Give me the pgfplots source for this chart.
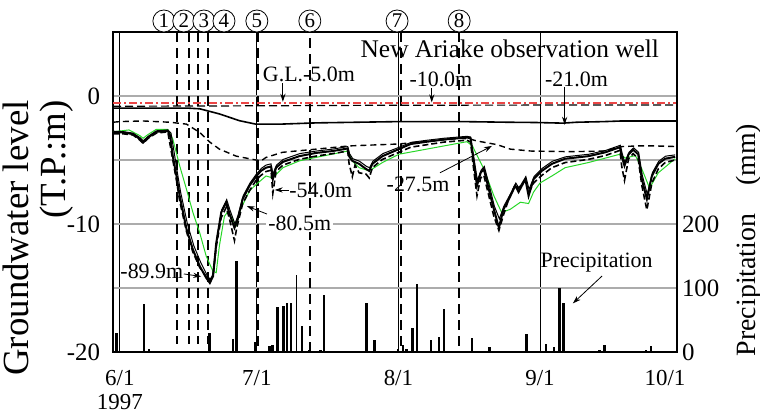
\documentclass[border=0pt]{standalone}
\usepackage{pgfplots}
\pgfplotsset{compat=1.18}
\usepackage{fontspec}
\setmainfont{Liberation Serif}
\usetikzlibrary{arrows.meta}
\definecolor{glred}{RGB}{235,70,70}
\definecolor{deepgreen}{RGB}{40,215,40}
\begin{document}
\begin{tikzpicture}
\path[use as bounding box] (-56.5bp,-30.5bp) rectangle (323.5bp,176bp);
\begin{axis}[
 scale only axis, width=282bp, height=160bp, at={(0,0)}, anchor=south west,
 xmin=-1.5, xmax=122, ymin=-20, ymax=5,
 xtick={0,30,61,92,122}, xticklabels={{6/1\\1997},7/1,8/1,9/1,{\hspace*{-12bp}10/1}},
 ytick={-20,-15,-10,-5,0}, yticklabels={-20,,-10,,0},
 major tick length=0pt,
 xmajorgrids, ymajorgrids,
 x grid style={black, line width=0.4bp},
 y grid style={gray!65, line width=0.6bp},
 axis line style={line width=0.8bp},
 tick label style={font=\fontsize{12.5}{13}\selectfont},
 xticklabel style={align=center, font=\fontsize{11.5}{12}\selectfont, yshift=-5.5bp},
 yticklabel style={xshift=-3bp},
 /pgf/number format/assume math mode=true,
 clip=false,
]
% event lines
\addplot[black, line width=1.1bp, dash pattern=on 5bp off 3bp] coordinates {(12.5,5) (12.5,-19.4)};
\addplot[black, line width=1.1bp, dash pattern=on 5bp off 3bp] coordinates {(15.1,5) (15.1,-19.4)};
\addplot[black, line width=1.1bp, dash pattern=on 5bp off 3bp] coordinates {(17.1,5) (17.1,-19.4)};
\addplot[black, line width=1.1bp, dash pattern=on 5bp off 3bp] coordinates {(19.3,5) (19.3,-19.4)};
\addplot[black, line width=1.1bp, dash pattern=on 5bp off 3bp] coordinates {(30.2,5) (30.2,-20)};
\addplot[black, line width=1.1bp, dash pattern=on 5bp off 3bp] coordinates {(41.6,4.5) (41.6,-20)};
\addplot[black, line width=1.1bp, dash pattern=on 5bp off 3bp] coordinates {(61.5,5) (61.5,-20)};
\addplot[black, line width=1.1bp, dash pattern=on 5bp off 3bp] coordinates {(74.3,5) (74.3,-20)};
% G.L.-5.0m
\addplot[glred, line width=0.6bp, dash pattern=on 4bp off 1.5bp on 1bp off 1.5bp] coordinates {(-1.5,-0.55) (122,-0.55)};
% -10.0m
\addplot[black, line width=0.6bp, dash pattern=on 4bp off 2bp] coordinates {(-1.5,-0.8) (20,-0.78) (60,-0.72) (122,-0.7)};
% -21.0m
\addplot[black, line width=0.8bp] coordinates {(-1.5,-0.95) (15,-0.95) (17.5,-1.0) (21.8,-1.4) (26.2,-1.93) (29.8,-2.2) (35,-2.2) (43,-2.1) (61,-2.0) (75,-2.0) (85,-2.05) (91,-2.07) (97,-2.12) (100,-2.05) (106,-2.0) (110,-1.95) (122,-1.95)};
% -27.5m
\addplot[black, line width=0.7bp, dash pattern=on 3bp off 2bp] coordinates {(-1.5,-2.05) (0,-2.0) (5,-1.95) (11,-2.05) (14.6,-2.2) (17.5,-2.85) (19.7,-3.6) (21.8,-4.15) (25.5,-4.7) (29.8,-5.0) (31,-5.05) (32,-4.8) (35.6,-4.4) (43,-4.15) (50.2,-3.9) (61,-3.75) (74.6,-3.3) (76.7,-3.36) (78,-3.5) (82.6,-3.8) (85.5,-4.15) (90,-4.3) (99,-4.35) (106,-4.3) (110,-3.95) (113.5,-3.9) (117,-3.9) (122,-3.95)};
% green
\addplot[deepgreen, line width=0.5bp] coordinates {(-1.5,-2.8) (2,-2.65) (4.4,-3.1) (5.1,-3.3) (6.2,-3.0) (8,-2.6) (10.5,-2.6) (11.6,-3.37) (13.1,-5.45) (14.6,-7.3) (16,-9.1) (17.5,-10.7) (18.9,-12.5) (20.4,-13.7) (21.1,-13.8) (21.8,-11.7) (22.9,-9.4) (23.7,-9.0) (25.1,-9.9) (25.5,-10.1) (26.5,-8.8) (28.4,-7.4) (30.2,-6.8) (32,-6.25) (33.5,-6.4) (35.7,-5.6) (39.3,-5.07) (42.9,-4.8) (49.9,-4.3) (50.9,-5.07) (52.4,-5.6) (54.6,-5.85) (57.5,-5.2) (61.1,-4.55) (76,-3.57) (77.2,-3.9) (79.7,-5.7) (81.9,-7.8) (83.6,-9.1) (85.5,-8.85) (87.7,-8.3) (89.5,-8.4) (90.6,-7.5) (92,-6.8) (94.6,-6.25) (97.5,-5.6) (102.6,-5.2) (109.5,-4.55) (110.7,-4.85) (112.9,-4.65) (114.3,-5.7) (116,-7.2) (117.9,-6.0) (121.6,-4.9)};
% dashed deep
\addplot[black, line width=0.8bp, dash pattern=on 3bp off 1.5bp] coordinates {(-1.5,-2.95) (0.7,-2.95) (2.9,-3.05) (4.4,-3.45) (5.1,-3.7) (6.2,-3.3) (8,-2.9) (10.5,-2.8) (11,-3.8) (11.6,-5.0) (12.4,-6.6) (13.1,-8.2) (14.6,-10.6) (16,-12.2) (17.5,-13.4) (18.9,-14.1) (19.7,-14.4) (20.4,-14.0) (21.1,-11.8) (22.2,-9.5) (23.3,-8.7) (24,-9.6) (25.1,-11.3) (25.6,-10.3) (26.9,-8.4) (28.4,-7.4) (29.8,-6.6) (30.9,-6.2) (32,-5.9) (33.1,-5.8) (33.5,-7.6) (34.2,-5.9) (35.7,-5.4) (39.3,-4.95) (42.9,-4.7) (46.6,-4.5) (49.9,-4.3) (50.2,-5.3) (50.9,-6.3) (51.5,-5.4) (52.4,-6.0) (53.9,-6.1) (54.6,-6.4) (55.3,-5.6) (57.5,-4.95) (61.1,-4.4) (63.7,-4.0) (67.3,-3.8) (71,-3.6) (76,-3.45) (76.8,-3.6) (77.5,-5.8) (78.2,-7.8) (79,-6.4) (79.7,-6.2) (80.8,-7.8) (81.9,-9.4) (83,-10.5) (84,-9.3) (85.2,-8.0) (86.6,-6.9) (87.3,-7.2) (88.8,-6.6) (89.5,-7.6) (90.6,-6.8) (92.4,-6.2) (94.6,-5.6) (97.5,-5.2) (102.6,-4.95) (106.3,-4.65) (109.5,-4.25) (109.9,-5.5) (110.5,-6.6) (111.4,-4.9) (112.4,-4.5) (113.5,-4.9) (114.3,-7.0) (115.4,-8.9) (116.5,-6.8) (117.9,-5.7) (119.4,-5.2) (121.6,-5.0)};
% thin solid
\addplot[black, line width=0.5bp] coordinates {(-1.5,-2.75) (0.7,-2.78) (2.9,-2.9) (4.4,-3.25) (5.1,-3.5) (6.2,-3.15) (8,-2.72) (10.5,-2.65) (11.2,-2.9) (11.8,-4.2) (12.6,-6.0) (13.3,-7.5) (14.8,-10.0) (16.2,-11.7) (17.7,-13.0) (19.1,-14.0) (19.9,-14.4) (20.6,-13.6) (21.3,-11.0) (22.3,-8.9) (23.4,-8.1) (24.1,-8.9) (25.2,-10.0) (25.9,-9.3) (27,-7.8) (28.5,-6.8) (29.9,-6.1) (31,-5.65) (32,-5.4) (33.1,-5.3) (33.5,-6.1) (34.3,-5.4) (35.8,-4.95) (39.4,-4.5) (43,-4.3) (46.6,-4.15) (49.9,-3.95) (50.3,-4.5) (51,-4.9) (52.5,-5.1) (54,-5.5) (54.7,-5.6) (55.4,-5.1) (57.6,-4.5) (61.2,-4.0) (63.8,-3.62) (67.4,-3.45) (71,-3.3) (76,-3.15) (76.8,-3.2) (77.6,-5.0) (78.3,-6.6) (79.1,-5.8) (79.8,-5.5) (80.9,-7.0) (82,-8.6) (83.1,-9.6) (84.1,-8.6) (85.3,-7.8) (86.7,-6.8) (87.4,-7.2) (88.9,-6.3) (89.6,-7.3) (90.7,-6.3) (92.5,-5.65) (94.7,-5.1) (97.6,-4.75) (102.7,-4.55) (106.4,-4.25) (109.6,-3.85) (110,-4.5) (110.6,-5.2) (111.5,-4.4) (112.5,-4.05) (113.6,-4.4) (114.4,-6.2) (115.5,-7.7) (116.6,-6.0) (118,-5.1) (119.5,-4.7) (121.6,-4.6)};
% main thick
\addplot[black, line width=1.0bp] coordinates {(-1.5,-2.85) (0.7,-2.85) (2.9,-2.98) (4.4,-3.37) (5.1,-3.63) (6.2,-3.24) (8.0,-2.8) (10.5,-2.72) (11.0,-3.1) (11.6,-4.7) (12.4,-6.25) (13.1,-7.8) (14.6,-10.4) (16.0,-12.0) (17.5,-13.3) (18.9,-14.2) (19.7,-14.6) (20.4,-14.1) (21.1,-11.5) (22.2,-9.1) (23.3,-8.3) (24.0,-9.2) (25.1,-10.3) (25.8,-9.65) (26.9,-8.05) (28.4,-7.0) (29.8,-6.3) (30.9,-5.85) (32.0,-5.6) (33.1,-5.5) (33.5,-6.5) (34.2,-5.6) (35.7,-5.15) (39.3,-4.7) (42.9,-4.45) (46.6,-4.3) (49.9,-4.1) (50.2,-4.7) (50.9,-5.07) (52.4,-5.3) (53.9,-5.7) (54.6,-5.85) (55.3,-5.3) (57.5,-4.7) (61.1,-4.15) (63.7,-3.75) (67.3,-3.57) (71,-3.4) (76,-3.24) (76.8,-3.3) (77.5,-5.2) (78.2,-7.0) (79,-6.0) (79.7,-5.7) (80.8,-7.3) (81.9,-8.85) (83,-10.3) (84,-8.85) (85.2,-8.05) (86.6,-7.0) (87.3,-7.5) (88.8,-6.5) (89.5,-7.8) (90.6,-6.5) (92.4,-5.85) (94.6,-5.3) (97.5,-4.9) (102.6,-4.7) (106.3,-4.4) (109.5,-4.0) (109.9,-4.7) (110.5,-5.45) (111.4,-4.55) (112.4,-4.2) (113.5,-4.55) (114.3,-6.5) (115.4,-8.05) (116.5,-6.25) (117.9,-5.3) (119.4,-4.9) (121.6,-4.75)};
% circled event numbers
\begin{scope}[every node/.style={draw, circle, inner sep=0pt, minimum size=11bp, line width=0.4bp, font=\fontsize{10.5}{11}\selectfont, fill=white}]
\node at (axis cs:9.64,5.86) {1};
\node at (axis cs:14.0,5.86) {2};
\node at (axis cs:18.4,5.86) {3};
\node at (axis cs:22.8,5.86) {4};
\node at (axis cs:30.0,5.86) {5};
\node at (axis cs:41.6,5.86) {6};
\node at (axis cs:60.7,5.86) {7};
\node at (axis cs:74.3,5.86) {8};
\end{scope}
% annotations
\begin{scope}[every node/.style={font=\fontsize{11}{12}\selectfont, inner sep=1bp}]
\node at (axis cs:85.4,3.67) {\fontsize{12.75}{13}\selectfont New Ariake observation well};
\node at (axis cs:41.4,1.72) {G.L.-5.0m};
\node at (axis cs:70.3,1.33) {-10.0m};
\node at (axis cs:100.0,1.33) {-21.0m};
\node at (axis cs:44.0,-7.34) {-54.0m};
\node[fill=white] at (axis cs:39.4,-9.92) {-80.5m};
\node at (axis cs:7.0,-13.67) {-89.9m};
\node at (axis cs:65.3,-6.87) {-27.5m};
\node at (axis cs:104.4,-13.05) {Precipitation};
\end{scope}
\begin{scope}[line width=0.4bp, -{Stealth[length=4bp,width=2.6bp]}]
\draw (axis cs:35.7,1.0) -- (axis cs:35.7,-0.45);
\draw (axis cs:68.3,0.6) -- (axis cs:68.3,-0.5);
\draw (axis cs:97.4,0.7) -- (axis cs:97.4,-2.25);
\draw (axis cs:37.0,-7.34) -- (axis cs:33.9,-7.34);
\draw (axis cs:32.2,-9.22) -- (axis cs:27.8,-8.6);
\draw (axis cs:14.0,-13.9) -- (axis cs:17.8,-14.1);
\draw (axis cs:70.1,-6.0) -- (axis cs:81.5,-3.9);
\draw (axis cs:105.6,-14.06) -- (axis cs:99.2,-16.2);
\end{scope}
\end{axis}
\begin{axis}[
 scale only axis, width=282bp, height=160bp, at={(0,0)}, anchor=south west,
 xmin=-1.5, xmax=122, ymin=0, ymax=500,
 axis y line*=right, axis x line=none,
 ytick={0,100,200}, major tick length=0pt,
 axis line style={line width=1.2bp},
 tick label style={font=\fontsize{12.5}{13}\selectfont},
 yticklabel style={xshift=-1bp},
 /pgf/number format/assume math mode=true,
]
\addplot[ycomb, black, line width=1.3bp] coordinates {(-0.7,30) (5.3,75) (6.4,5) (7.6,1) (16.3,1) (19.6,30) (24.8,21) (25.6,142) (29.7,16) (32.8,9) (33.4,11) (34.5,70) (35.8,72) (36.6,76) (37.5,76) (39.9,40) (41.5,3) (43.9,3) (44.7,89) (54.0,76) (54.8,1) (55.8,19) (60.9,5) (62.0,11) (62.8,5) (64.1,37) (65.1,106) (66.0,1) (68.1,19) (69.9,23) (71.0,67) (72.0,1) (77.1,22) (80.9,8) (89.1,28) (93.3,12) (95.1,8) (96.3,100) (97.2,76) (105.0,3) (106.1,11) (115.2,3) (116.3,9)};
\addplot[ycomb, black, line width=0.5bp] coordinates {(38.7,120)};
\end{axis}
\node[rotate=90, align=right, font=\fontsize{18.5}{18.5}\selectfont] at (-37.5bp,57bp) {Groundwater level\\(T.P.:m)};
\node[rotate=90, font=\fontsize{14}{16}\selectfont] at (318bp,56bp) {Precipitation\quad(mm)};
\end{tikzpicture}
\end{document}
